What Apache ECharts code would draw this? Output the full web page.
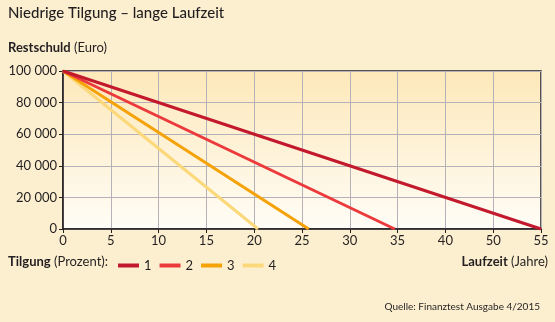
<!DOCTYPE html>
<html>
<head>
<meta charset="utf-8">
<script src="https://cdn.jsdelivr.net/npm/echarts@6/dist/echarts.min.js"></script>
<style>
  html, body { margin: 0; padding: 0; background: #fcefd0; }
  #chart { width: 555px; height: 322px; }
</style>
</head>
<body>
<div id="chart"></div>
<script>
// Tick labels along the time axis (as printed, one per gridline)
const xTickLabels = ['0', '5', '10', '15', '20', '25', '30', '35', '40', '50', '55'];
// Remaining-debt curves: [axis position in years, Restschuld in Euro]
const tilgung1 = [[0, 100000], [50, 0]];
const tilgung2 = [[0, 100000], [34.7, 0]];
const tilgung3 = [[0, 100000], [25.7, 0]];
const tilgung4 = [[0, 100000], [20.4, 0]];
const seriesNames = ['1', '2', '3', '4'];
const seriesData = [tilgung1, tilgung2, tilgung3, tilgung4];
const seriesColors = ['#c3192c', '#ec3a3c', '#f5a207', '#fbd879'];

const FONT = 'Lato';
const INK = '#231f20';
const GRID = '#b4b1b9';

const chart = echarts.init(document.getElementById('chart'), null, { renderer: 'canvas' });

const option = {
  backgroundColor: '#fcefd0',
  animation: false,
  textStyle: { fontFamily: FONT, color: INK },
  grid: {
    left: 63, right: 14, top: 71, bottom: 93,
    show: true,
    borderColor: INK,
    borderWidth: 1.5,
    backgroundColor: {
      type: 'linear', x: 0, y: 0, x2: 0, y2: 1,
      colorStops: [
        { offset: 0, color: '#fde8b9' },
        { offset: 1, color: '#fffdf7' }
      ]
    }
  },
  legend: {
    left: 113, top: 254,
    itemWidth: 21, itemHeight: 4, itemGap: 8,
    icon: 'rect',
    textStyle: { fontFamily: FONT, fontSize: 13, color: INK },
    data: seriesNames
  },
  xAxis: {
    type: 'value', min: 0, max: 50, interval: 5,
    axisLine: { show: true, lineStyle: { color: INK, width: 1.5 } },
    axisTick: { show: true, length: 4, lineStyle: { color: INK, width: 1 } },
    splitLine: { show: true, lineStyle: { color: GRID, width: 1 } },
    axisLabel: {
      fontFamily: FONT, fontSize: 13, color: INK, margin: 5,
      formatter: v => xTickLabels[Math.round(v / 5)]
    }
  },
  yAxis: {
    type: 'value', min: 0, max: 100000, interval: 20000,
    axisLine: { show: true, lineStyle: { color: INK, width: 1.5 } },
    axisTick: { show: true, length: 4, lineStyle: { color: INK, width: 1 } },
    splitLine: { show: true, lineStyle: { color: GRID, width: 1 } },
    axisLabel: {
      fontFamily: FONT, fontSize: 13, color: INK, margin: 6,
      formatter: v => String(v).replace(/\B(?=(\d{3})+(?!\d))/g, ' ')
    }
  },
  series: seriesData.map((d, i) => ({
    name: seriesNames[i],
    type: 'line',
    data: d,
    showSymbol: false,
    color: seriesColors[i],
    lineStyle: { width: 3, color: seriesColors[i] },
    z: 10 - i
  })),
  graphic: [
    {
      type: 'text', left: 8, top: 6,
      style: { text: 'Niedrige Tilgung – lange Laufzeit', font: '500 15px ' + FONT, fill: INK }
    },
    {
      type: 'text', left: 8, top: 41,
      style: {
        text: '{b|Restschuld} {n|(Euro)}',
        rich: {
          b: { fontFamily: FONT, fontSize: 13, fontWeight: 'bold', fill: INK },
          n: { fontFamily: FONT, fontSize: 13, fill: INK }
        }
      }
    },
    {
      type: 'text', left: 8, top: 255,
      style: {
        text: '{b|Tilgung} {n|(Prozent):}',
        rich: {
          b: { fontFamily: FONT, fontSize: 13, fontWeight: 'bold', fill: INK },
          n: { fontFamily: FONT, fontSize: 13, fill: INK }
        }
      }
    },
    {
      type: 'text', right: 7, top: 255,
      style: {
        text: '{b|Laufzeit} {n|(Jahre)}',
        rich: {
          b: { fontFamily: FONT, fontSize: 13, fontWeight: 'bold', fill: INK },
          n: { fontFamily: FONT, fontSize: 13, fill: INK }
        }
      }
    },
    {
      type: 'text', right: 15, top: 302,
      style: { text: 'Quelle: Finanztest Ausgabe 4/2015', font: '10px ' + FONT, fill: INK }
    }
  ]
};

chart.setOption(option);
</script>
</body>
</html>
